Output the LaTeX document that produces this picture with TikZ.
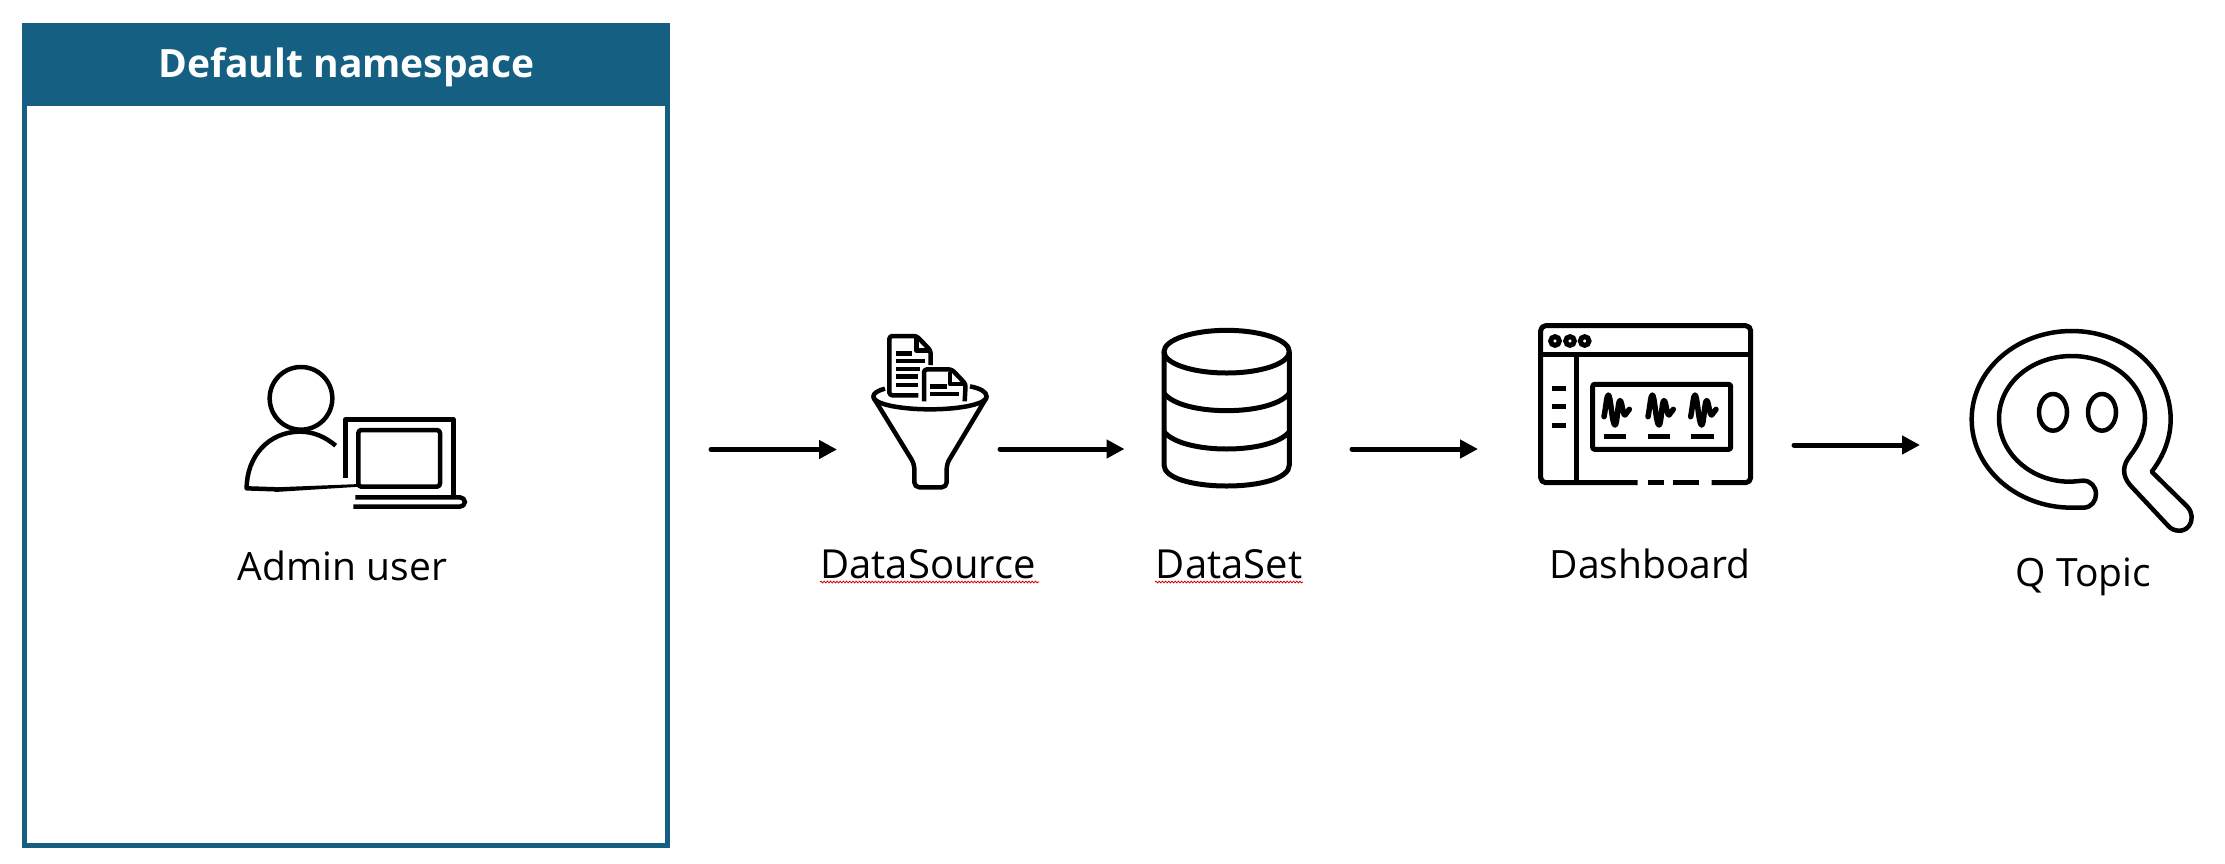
\documentclass[tikz,border=0pt]{standalone}
\usepackage{fontspec}
\setmainfont{Open Sans}
\usetikzlibrary{arrows.meta,decorations.pathmorphing}
\definecolor{nsblue}{HTML}{156082}
\definecolor{ink}{HTML}{000000}
\tikzset{
  x=1pt,y=-1pt,
  icon/.style={line width=#1,draw=ink,line join=round},
  icon/.default=4.5pt,
  zoomed/.style={x=0.33333pt,y=-0.33333pt},
  flowarrow/.style={line width=5pt,draw=ink,line cap=round,
    -{Triangle[length=18pt,width=18pt]}},
  lbl/.style={anchor=base,font=\fontsize{39}{39}\selectfont,inner sep=0pt,text=black},
  lblwide/.style={lbl,font=\fontsize{40}{40}\selectfont},
  spell/.style={draw=red!80!black,line width=0.8pt,
    decorate,decoration={snake,amplitude=0.9pt,segment length=3.2pt}}
}
\begin{document}
\begin{tikzpicture}
\useasboundingbox (0,0) rectangle (2225,863);
\fill[white] (0,0) rectangle (2225,863);
% panel
\node[draw=nsblue,line width=5pt,minimum width=643pt,minimum height=820pt,inner sep=0pt,fill=white] (panel) at (346,435.5) {};
\fill[nsblue] (22,23) rectangle (670,106);
\node[anchor=base,font=\fontsize{39}{39}\selectfont\bfseries,text=white,inner sep=0pt] (title) at (346.5,77.5) {Default namespace};
% Admin user icon
\begin{scope}[shift={(200,330)},zoomed]
\draw[icon] (303,205) circle[radius=94];
\draw[icon] (407,347) .. controls (375,320) and (340,305) .. (300,305)
  .. controls (205,305) and (140,380) .. (140,475) -- (230,478);
\fill[ink] (225,472) -- (480,462) -- (480,470) -- (225,486) -- cycle;
\draw[icon] (436,443) -- (436,268) -- (760,268) -- (760,500);
\draw[icon,rounded corners=3pt] (475,470) -- (475,300) -- (720,300) -- (720,470) -- cycle;
\draw[icon,rounded corners=5pt] (466,502) -- (795,502) -- (795,530) -- (460,530);
\end{scope}
\node[lbl] (admin) at (342.5,580.5) {Admin user};
% Funnel icon
\begin{scope}[shift={(800,310)},zoomed]
\draw[icon] (255,236) .. controls (232,242) and (220,250) .. (220,260)
  .. controls (220,282) and (300,298) .. (390,298)
  .. controls (480,298) and (560,282) .. (560,260)
  .. controls (560,245) and (540,235) .. (510,229);
\draw[icon,rounded corners=5pt] (220,262) -- (343,462) -- (343,532) -- (440,532) -- (440,462) -- (560,262);
\draw[icon,rounded corners=3pt] (355,256) -- (268,256) -- (268,78) -- (350,78) -- (392,122) -- (392,165);
\draw[icon] (350,78) -- (350,122) -- (392,122);
\foreach \y/\xa/\xb in {130/288/335,153/288/375,177/288/360,200/288/355,225/288/355}
  \draw[line width=4.5pt,draw=ink] (\xa,\y) -- (\xb,\y);
\draw[icon,rounded corners=3pt] (372,274) -- (372,178) -- (455,178) -- (497,222) -- (494,274);
\draw[icon] (450,186) -- (450,222) -- (497,222);
\foreach \y/\xa/\xb in {230/390/440,252/390/478}
  \draw[line width=4.5pt,draw=ink] (\xa,\y) -- (\xb,\y);
\end{scope}
\node[lblwide] (dsrc) at (928,578) {DataSource};
\draw[spell] (820,582) -- (1039,582);
% Cylinder icon
\begin{scope}[shift={(800,310)},zoomed]
\draw[icon=5pt] (1280,125) ellipse[x radius=188,y radius=64];
\draw[icon=5pt] (1092,125) -- (1092,465) .. controls (1092,505) and (1180,528) .. (1280,528)
  .. controls (1380,528) and (1468,505) .. (1468,465) -- (1468,125);
\draw[icon=5pt] (1092,250) .. controls (1120,285) and (1200,302) .. (1280,302) .. controls (1360,302) and (1440,285) .. (1468,250);
\draw[icon=5pt] (1092,365) .. controls (1120,400) and (1200,417) .. (1280,417) .. controls (1360,417) and (1440,400) .. (1468,365);
\end{scope}
\node[lblwide] (dset) at (1229,578) {DataSet};
\draw[spell] (1155,582) -- (1303,582);
% Dashboard icon
\begin{scope}[shift={(1520,310)},zoomed]
\draw[icon=5pt,rounded corners=5pt] (353,518) -- (62,518) -- (62,47) -- (692,47) -- (692,518) -- (575,518);
\draw[icon=5pt] (385,518) -- (432,518) (458,518) -- (537,518);
\draw[icon=5pt] (62,134) -- (692,134) (168,134) -- (168,518);
\foreach \x in {105,150,194}
  \draw[line width=5pt,draw=ink] (\x,93) circle[radius=13];
\foreach \y in {235,290,345}
  \draw[line width=5pt,draw=ink] (95,\y) -- (138,\y);
\draw[icon=5pt,rounded corners=2pt] (218,223) rectangle (632,418);
\foreach \dx/\xa/\xb in {0/252/318,132/385/450,260/514/582}{
  \draw[line width=5.5pt,draw=ink,line cap=round,line join=round,xshift=\dx*0.33333pt]
    (252,320) .. controls (258,290) and (260,255) .. (265,255)
    .. controls (272,255) and (276,345) .. (285,345)
    .. controls (292,345) and (293,272) .. (300,272)
    .. controls (306,272) and (308,315) .. (315,315) -- (328,298);
  \draw[line width=5pt,draw=ink] (\xa,379) -- (\xb,379);
}
\end{scope}
\node[lbl] (dash) at (1650,578) {Dashboard};
% Q icon
\begin{scope}[shift={(1950,330)},zoomed]
\draw[icon] (605,425) .. controls (640,380) and (662,325) .. (662,268)
  .. controls (662,120) and (530,3) .. (365,3)
  .. controls (200,3) and (65,120) .. (65,268)
  .. controls (65,415) and (200,533) .. (365,533)
  -- (400,533)
  .. controls (425,533) and (438,512) .. (438,492)
  .. controls (438,470) and (422,452) .. (400,452)
  -- (365,455)
  .. controls (245,458) and (147,370) .. (147,265)
  .. controls (147,160) and (245,78) .. (365,78)
  .. controls (485,78) and (585,160) .. (585,265)
  .. controls (585,310) and (565,345) .. (540,378)
  .. controls (518,405) and (515,435) .. (540,465)
  -- (655,588)
  .. controls (670,605) and (700,608) .. (715,590)
  .. controls (730,572) and (728,548) .. (712,530)
  -- cycle;
\draw[icon] (309,247) ellipse[x radius=42,y radius=55];
\draw[icon] (456,247) ellipse[x radius=42,y radius=55];
\end{scope}
\node[lbl] (qt) at (2083.5,586) {Q Topic};
% connectors
\coordinate (a1s) at (711,449.5); \coordinate (a1e) at (837,449.5);
\coordinate (a2s) at (1000,449); \coordinate (a2e) at (1124.5,449);
\coordinate (a3s) at (1352,449); \coordinate (a3e) at (1478,449);
\coordinate (a4s) at (1794,445); \coordinate (a4e) at (1920,445);
\draw[flowarrow] (a1s) -- (a1e);
\draw[flowarrow] (a2s) -- (a2e);
\draw[flowarrow] (a3s) -- (a3e);
\draw[flowarrow] (a4s) -- (a4e);
\end{tikzpicture}
\end{document}
